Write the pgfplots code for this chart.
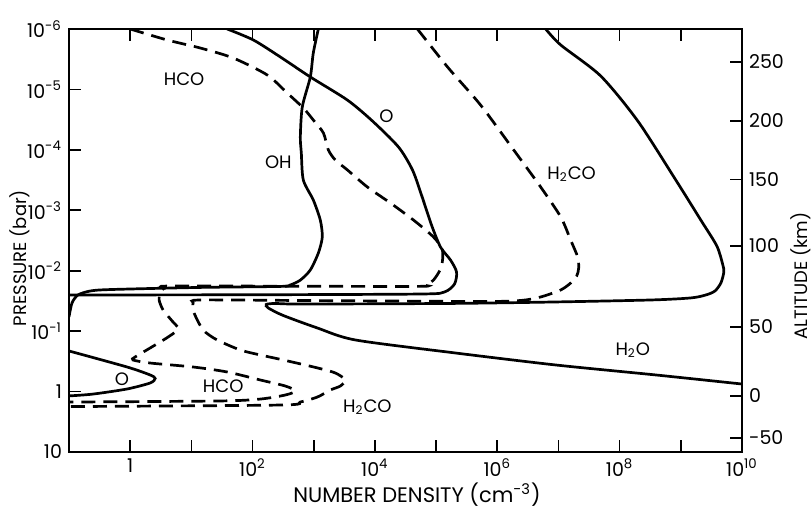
\documentclass[border=0pt]{standalone}
\usepackage{fontspec}
\setmainfont{Poppins}
\usepackage{pgfplots}
\pgfplotsset{compat=1.18}

\tikzset{
  solidc/.style={black, line width=1.35pt, smooth, tension=0.45},
  dashc/.style={black, line width=1.35pt, smooth, tension=0.45, dash pattern=on 7pt off 4pt},
  lbl/.style={font=\fontsize{9}{10.5}\selectfont, inner sep=0pt}
}

\begin{document}
\begin{tikzpicture}
\begin{axis}[name=ax, scale only axis, width=336.5pt, height=211.5pt,
  xmode=log, ymode=log, y dir=reverse,
  xmin=0.1, xmax=1e10, ymin=1e-6, ymax=10,
  axis line style={line width=0.85pt}, tick style={line width=0.85pt, black},
  tick align=inside, major tick length=6pt, minor tick style={draw=none},
  tick label style={font=\fontsize{9.5}{11}\selectfont},
  xtick={1,10,100,1e3,1e4,1e5,1e6,1e7,1e8,1e9,1e10},
  xticklabels={1,,10\textsuperscript{2},,10\textsuperscript{4},,10\textsuperscript{6},,10\textsuperscript{8},,10\textsuperscript{10}},
  xtick pos=both, xticklabel pos=lower,
  ytick={1e-6,1e-5,1e-4,1e-3,1e-2,1e-1,1,10},
  yticklabels={10\textsuperscript{-6},10\textsuperscript{-5},10\textsuperscript{-4},10\textsuperscript{-3},10\textsuperscript{-2},10\textsuperscript{-1},1,10},
  ytick pos=left]

% H2O
\addplot[solidc] coordinates {(6.18e6,1e-6) (1.09e7,1.84e-6) (4.91e7,6.0e-6) (1.98e8,3.33e-5) (8.28e8,3.16e-4) (2.12e9,1.45e-3) (3.88e9,3.90e-3) (4.86e9,8.04e-3) (5.05e9,1.05e-2) (4.51e9,1.60e-2) (3.60e9,2.17e-2) (2.56e9,2.52e-2) (1.46e9,2.82e-2) (3.23e8,3.05e-2) (7.45e6,3.30e-2) (1.72e5,3.48e-2) (604,3.56e-2) (236,3.48e-2) (167,3.62e-2) (181,4.14e-2) (318,5.51e-2) (1.15e3,8.87e-2) (4.80e3,0.140) (2.08e5,0.230) (9.0e6,0.363) (3.90e8,0.531) (1e10,0.750)};

% O (upper)
\addplot[solidc] coordinates {(38.5,1e-6) (103,1.52e-6) (284,2.90e-6) (879,6.22e-6) (3.55e3,1.50e-5) (9.10e3,3.33e-5) (2.43e4,8.97e-5) (4.11e4,2.15e-4) (5.77e4,5.58e-4) (8.41e4,1.75e-3) (1.18e5,4.06e-3) (1.72e5,6.65e-3) (2.16e5,1.05e-2) (2.00e5,1.66e-2) (1.37e5,2.25e-2) (5.56e4,2.43e-2) (100,2.50e-2) (0.1,2.52e-2)};

% OH
\addplot[solidc] coordinates {(1.19e3,1e-6) (984,2.49e-6) (879,6.22e-6) (650,1.95e-5) (604,6.12e-5) (627,1.13e-4) (676,3.16e-4) (984,6.76e-4) (1.28e3,1.45e-3) (1.38e3,2.77e-3) (1.19e3,5.09e-3) (879,9.73e-3) (604,1.43e-2) (414,1.72e-2) (284,1.82e-2) (13.9,1.89e-2) (0.469,2.05e-2) (0.221,2.17e-2) (0.140,2.52e-2) (0.112,3.42e-2) (0.1,5.83e-2)};

% O (lower)
\addplot[solidc] coordinates {(0.1,0.213) (0.889,0.392) (2.12,0.531) (2.56,0.607) (2.12,0.721) (0.889,0.906) (0.247,1.10) (0.1,1.18)};

% HCO
\addplot[dashc] coordinates {(1.0,1e-6) (4.02,1.52e-6) (13.9,2.06e-6) (48.3,3.02e-6) (174,5.77e-6) (370,1.15e-5) (676,2.03e-5) (984,3.21e-5) (1.44e3,5.26e-5) (1.73e3,1.0e-4) (2.25e3,1.47e-4) (3.55e3,2.15e-4) (7.53e3,4.12e-4) (1.79e4,7.57e-4) (4.27e4,1.45e-3) (9.06e4,2.77e-3) (1.27e5,4.54e-3) (1.22e5,8.67e-3) (9.06e4,1.43e-2) (6.70e4,1.72e-2) (3.81e4,1.82e-2) (6.08,1.79e-2) (3.72,1.89e-2) (3.08,2.34e-2) (2.97,3.05e-2) (3.45,4.47e-2) (4.85,6.79e-2) (6.08,9.20e-2) (4.17,0.125) (2.12,0.190) (1.20,0.268) (1.11,0.300) (2.12,0.337) (10.7,0.392) (38.5,0.474) (134,0.643) (343,0.809) (500,0.977) (343,1.14) (134,1.33) (29.6,1.43) (0.1,1.49)};

% H2CO
\addplot[dashc] coordinates {(4.95e4,1e-6) (1.54e5,4.26e-6) (5.33e5,1.81e-5) (1.85e6,1.0e-4) (5.12e6,4.12e-4) (1.09e7,1.29e-3) (1.58e7,3.10e-3) (2.06e7,5.93e-3) (2.14e7,9.02e-3) (1.99e7,1.22e-2) (1.58e7,1.60e-2) (1.09e7,2.08e-2) (5.12e6,2.72e-2) (2.40e6,3.11e-2) (5.33e5,3.23e-2) (604,3.11e-2) (13.9,3.05e-2) (10.7,3.42e-2) (11.1,5.01e-2) (15.6,9.57e-2) (26.4,0.140) (63.0,0.205) (134,0.248) (318,0.300) (1.15e3,0.406) (2.25e3,0.492) (3.29e3,0.643) (2.72e3,0.809) (1.87e3,0.942) (1.15e3,1.23) (604,1.49) (284,1.67) (0.1,1.77)};

\node[lbl] at (axis cs:7.62,6.71e-6) {HCO};
\node[lbl] at (axis cs:264,1.59e-4) {OH};
\node[lbl] at (axis cs:1.54e4,2.75e-5) {O};
\node[lbl] at (axis cs:1.64e7,2.51e-4) {H\textsubscript{2}CO};
\node[lbl] at (axis cs:1.64e8,0.205) {H\textsubscript{2}O};
\node[lbl] at (axis cs:0.736,0.619) {O};
\node[lbl] at (axis cs:33.1,0.809) {HCO};
\node[lbl] at (axis cs:7.53e3,1.80) {H\textsubscript{2}CO};
\end{axis}

% altitude scale
\begin{axis}[at={(ax.south west)}, anchor=south west,
  scale only axis, width=336.5pt, height=211.5pt,
  ymode=log, y dir=reverse, ymin=1e-6, ymax=10,
  xmin=0, xmax=1, axis x line=none, axis y line*=right,
  axis line style={line width=0.85pt}, tick style={line width=0.85pt, black},
  tick align=inside, major tick length=6pt, minor tick style={draw=none},
  tick label style={font=\fontsize{9.5}{11}\selectfont},
  ytick={3.52e-6,3.33e-5,3.09e-4,3.90e-3,8.53e-2,1.18,5.86},
  yticklabels={250,200,150,100,50,0,-50}]
\end{axis}

\node[rotate=90, inner sep=0pt, font=\fontsize{9}{11}\selectfont] at ([xshift=-24.5pt, yshift=97pt]ax.south west) {PRESSURE (bar)};
\node[rotate=90, inner sep=0pt, font=\fontsize{9}{11}\selectfont] at ([xshift=29.5pt, yshift=88pt]ax.south east) {ALTITUDE (km)};
\node[inner sep=0pt, font=\fontsize{10.5}{12}\selectfont] at ([xshift=174pt, yshift=-21.5pt]ax.south west) {NUMBER DENSITY (cm\textsuperscript{-3})};

\pgfresetboundingbox
\path[use as bounding box] ([xshift=-34.5pt, yshift=-28pt]ax.south west) rectangle ([xshift=35pt, yshift=14.5pt]ax.north east);
\end{tikzpicture}
\end{document}
